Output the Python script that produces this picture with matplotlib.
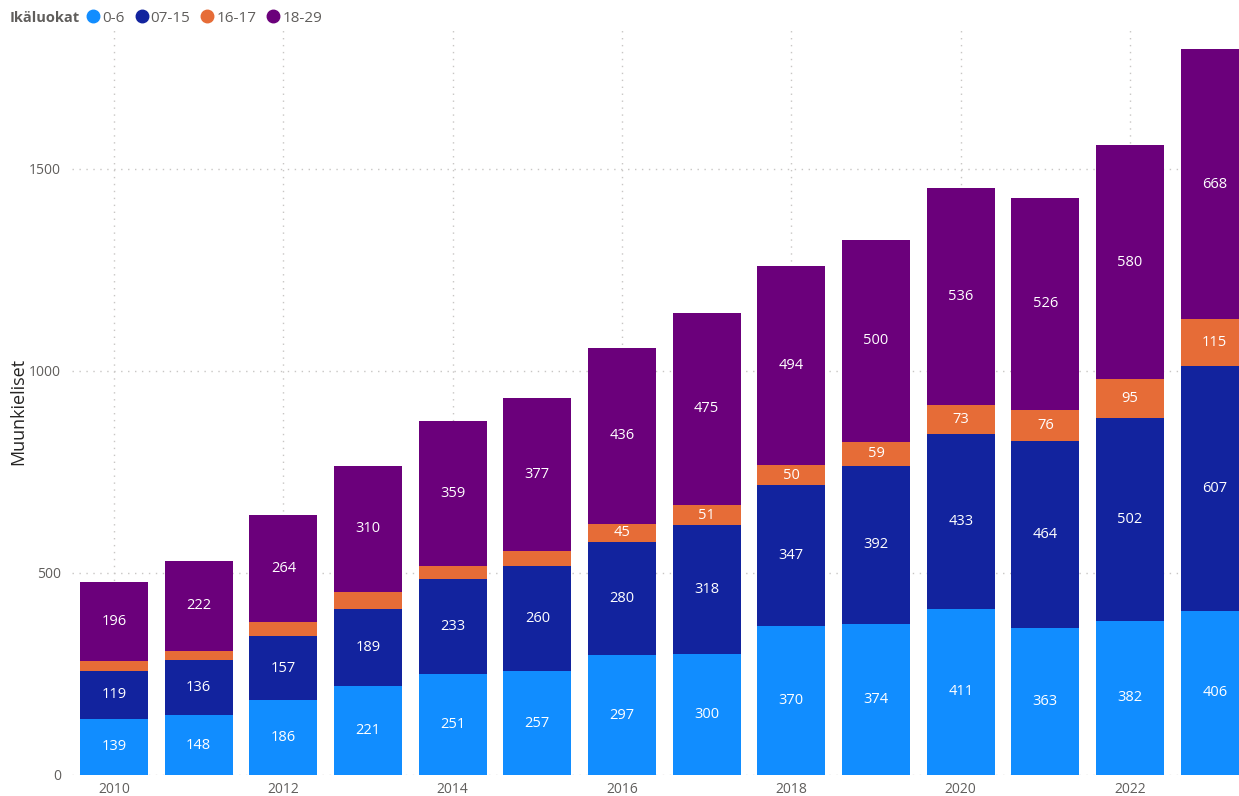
import matplotlib
matplotlib.use("Agg")
import matplotlib.pyplot as plt
from matplotlib.lines import Line2D
import numpy as np

plt.rcParams['font.family'] = ['Open Sans', 'DejaVu Sans']

years = [2010, 2011, 2012, 2013, 2014, 2015, 2016, 2017, 2018, 2019, 2020, 2021, 2022, 2023]
age_0_6 = [139, 148, 186, 221, 251, 257, 297, 300, 370, 374, 411, 363, 382, 406]
age_7_15 = [119, 136, 157, 189, 233, 260, 280, 318, 347, 392, 433, 464, 502, 607]
age_16_17 = [24, 24, 36, 44, 33, 38, 45, 51, 50, 59, 73, 76, 95, 115]
age_18_29 = [196, 222, 264, 310, 359, 377, 436, 475, 494, 500, 536, 526, 580, 668]
series_names = ["0-6", "07-15", "16-17", "18-29"]
colors = ["#118DFF", "#12239E", "#E66C37", "#6B007B"]
series = [age_0_6, age_7_15, age_16_17, age_18_29]

W, H = 1239, 796
fig = plt.figure(figsize=(W / 100, H / 100), dpi=100)
ax = fig.add_axes([72 / W, (796 - 775) / H, (W - 72) / W, (775 - 30) / H])

x = np.array(years)
bottom = np.zeros(len(years))
for name, vals, col in zip(series_names, series, colors):
    vals = np.array(vals)
    ax.bar(x, vals, bottom=bottom, width=0.8, color=col, edgecolor='none', zorder=3)
    for xi, b, v in zip(x, bottom, vals):
        if v >= 45:
            ax.text(xi, b + v / 2, str(v), ha='center', va='center', color='white',
                    fontsize=10.5, zorder=4)
    bottom += vals

ax.set_xlim(2009.504, 2023.287)
ax.set_ylim(0, 1844)
ax.set_yticks([0, 500, 1000, 1500])
ax.set_xticks([2010, 2012, 2014, 2016, 2018, 2020, 2022])
ax.tick_params(axis='both', length=0, labelsize=10, labelcolor='#605E5C')
ax.tick_params(axis='y', pad=8)
ax.tick_params(axis='x', pad=5)
ax.grid(True, axis='both', linestyle=(0, (1, 4)), color='#C8C6C4', linewidth=1, zorder=0)
for s in ax.spines.values():
    s.set_visible(False)
ax.set_ylabel("Muunkieliset", fontsize=13, color='#252423')
ax.yaxis.set_label_coords((27 - 72) / (W - 72), (775 - 411) / 745)

fig.text(10 / W, 1 - 18 / H, "Ikäluokat", fontsize=10.5, fontweight='bold',
         color='#605E5C', va='center', ha='left')
handles = [Line2D([], [], marker='o', linestyle='none', markersize=9,
                  markerfacecolor=c, markeredgecolor=c) for c in colors]
leg = fig.legend(handles, series_names, loc='center left', bbox_to_anchor=(84 / W, 1 - 18 / H),
                 ncol=4, frameon=False, handletextpad=0.0, columnspacing=0.5,
                 fontsize=11, handlelength=1.2, borderaxespad=0, borderpad=0)
for t in leg.get_texts():
    t.set_color('#605E5C')

fig.savefig("out.png", dpi=100)
